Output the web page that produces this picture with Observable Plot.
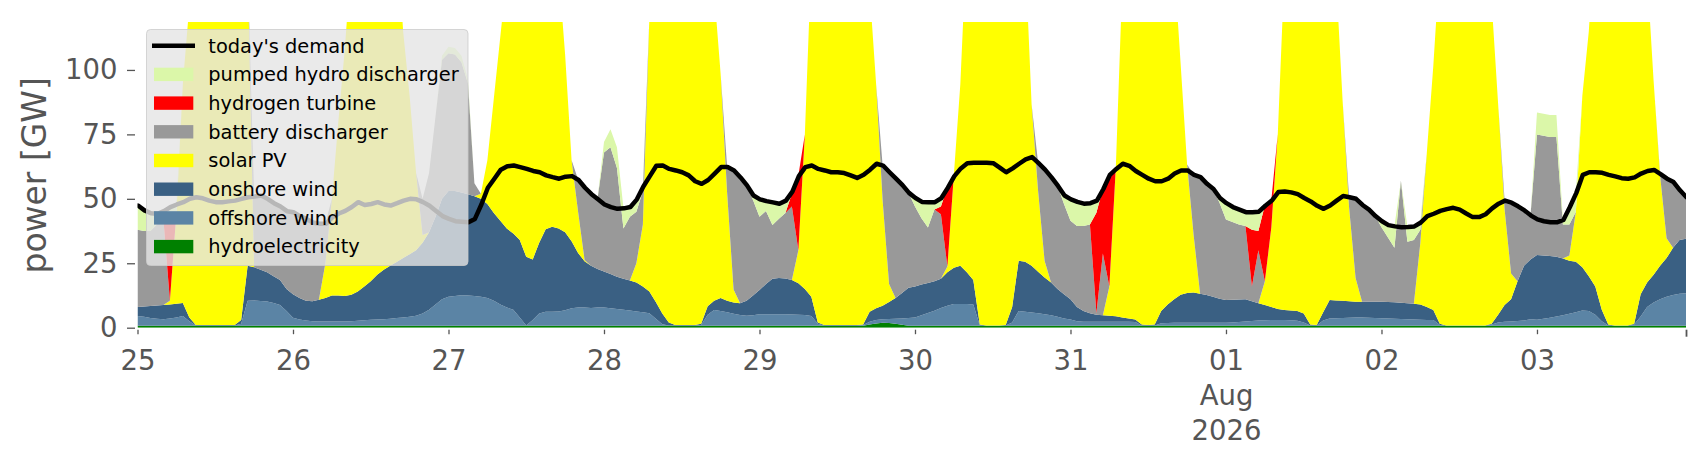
<!DOCTYPE html>
<html><head><meta charset="utf-8">
<script src="https://cdn.jsdelivr.net/npm/d3@7"></script>
<script src="https://cdn.jsdelivr.net/npm/@observablehq/plot@0.6"></script>
<style>
body{margin:0;background:#fff;}
#wrap{position:relative;width:1706px;height:460px;}
#wrap svg.overlay{position:absolute;left:0;top:0;pointer-events:none;}
</style></head><body>
<div id="wrap"></div>
<script>
// ---- data: hourly, 2026-07-25 00:00 .. 2026-08-03 23:00 (GW) ----
const seriesNames = ["hydroelectricity","offshore wind","onshore wind","solar PV","battery discharger","hydrogen turbine","pumped hydro discharger"];
const seriesColors = ["#008000","#5b84a5","#3a6083","#ffff00","#999999","#ff0000","#dbf7a9"];

const hydro = [
0.8,0.8,0.8,0.8,0.8,0.8,0.8,0.8,0.8,0.8,0.8,0.8,0.8,0.8,0.8,0.8,0.8,0.8,0.8,0.8,0.8,0.8,0.8,0.8,
0.8,0.8,0.8,0.8,0.8,0.8,0.8,0.8,0.8,0.8,0.8,0.8,0.8,0.8,0.8,0.8,0.8,0.8,0.8,0.8,0.8,0.8,0.8,0.8,
0.8,0.8,0.8,0.8,0.8,0.8,0.8,0.8,0.8,0.8,0.8,0.8,0.8,0.8,0.8,0.8,0.8,0.8,0.8,0.8,0.8,0.8,0.8,0.8,
0.8,0.8,0.8,0.8,0.8,0.8,0.8,0.8,0.8,0.8,0.8,0.8,0.8,0.8,0.8,0.8,0.8,0.8,0.8,0.8,0.8,0.8,0.8,0.8,
0.8,0.8,0.8,0.8,0.8,0.8,0.8,0.8,0.8,0.8,0.8,0.8,0.8,0.8,0.8,0.8,0.8,1.2,1.6,1.9,1.8,1.5,1.1,0.8,
0.8,0.8,0.8,0.8,0.8,0.8,0.8,0.8,0.8,0.8,0.8,0.8,0.8,0.8,0.8,0.8,0.8,0.8,0.8,0.8,0.8,0.8,0.8,0.8,
0.8,0.8,0.8,0.8,0.8,0.8,0.8,0.8,0.8,0.8,0.8,0.8,0.8,0.8,0.8,0.8,0.8,0.8,0.8,0.8,0.8,0.8,0.8,0.8,
0.8,0.8,0.8,0.8,0.8,0.8,0.8,0.8,0.8,0.8,0.8,0.8,0.8,0.8,0.8,0.8,0.8,0.8,0.8,0.8,0.8,0.8,0.8,0.8,
0.8,0.8,0.8,0.8,0.8,0.8,0.8,0.8,0.8,0.8,0.8,0.8,0.8,0.8,0.8,0.8,0.8,0.8,0.8,0.8,0.8,0.8,0.8,0.8,
0.8,0.8,0.8,0.8,0.8,0.8,0.8,0.8,0.8,0.8,0.8,0.8,0.8,0.8,0.8,0.8,0.8,0.8,0.8,0.8,0.8,0.8,0.8,0.8];

const offshore = [
3.7,3.4,3.0,2.7,2.5,2.8,3.2,3.7,1.7,0.1,0.1,0.1,0.1,0.1,0.1,0.1,0.7,9.7,9.8,9.6,9.4,8.8,8.0,5.7,
3.1,2.4,2.0,1.7,1.6,1.6,1.6,1.6,1.6,1.7,1.9,2.1,2.3,2.4,2.5,2.7,3.0,3.2,3.4,3.8,4.7,6.2,8.2,10.2,
11.2,11.5,11.8,11.7,11.5,11.2,10.7,9.7,8.2,7.0,6.2,3.2,0.1,2.2,4.7,5.4,5.4,5.5,6.0,6.7,7.0,7.0,6.8,7.0,
7.0,6.7,6.5,6.2,5.9,5.5,5.2,4.8,2.7,0.5,0.1,0.1,0.1,0.1,0.1,0.2,4.2,6.1,5.7,5.2,4.6,4.1,3.8,4.0,
4.4,4.4,4.4,4.4,4.4,4.3,4.2,4.1,3.7,0.7,0.1,0.1,0.1,0.1,0.1,0.1,0.2,1.1,1.4,1.4,1.6,2.0,2.5,3.0,
3.2,4.0,4.9,5.8,6.8,7.7,8.4,8.4,8.4,8.2,0.1,0.1,0.1,0.1,0.1,1.2,5.7,5.4,5.1,4.8,4.4,4.0,3.4,2.8,
2.4,1.7,1.5,1.5,1.5,1.5,1.5,1.5,1.5,1.5,1.4,0.1,0.1,0.1,0.9,1.0,1.1,1.1,1.1,1.1,1.1,1.1,1.1,1.1,
1.1,1.2,1.4,1.6,1.8,2.0,2.1,2.2,2.2,2.2,2.1,1.9,1.2,0.1,0.1,2.0,2.8,2.9,3.0,3.1,3.2,3.2,3.1,3.0,
2.9,2.8,2.7,2.6,2.5,2.4,2.3,2.2,2.2,0.2,0.1,0.1,0.1,0.1,0.1,0.1,0.1,0.4,1.2,1.5,1.6,1.8,2.0,2.5,
2.3,2.7,3.1,3.5,4.0,4.6,5.2,5.9,5.7,4.2,1.7,0.1,0.1,0.1,0.1,0.4,3.5,7.2,9.0,10.2,11.2,11.9,12.4,12.6];

const onshore = [
3.5,4.0,4.6,5.1,5.5,5.4,5.3,5.1,1.5,0.1,0.1,0.1,0.1,0.1,0.1,0.1,1.5,13.5,12.9,12.1,11.3,10.4,9.7,8.5,
9.1,8.3,7.7,7.8,8.4,9.1,10.1,10.1,9.9,10.3,11.3,13.1,14.9,17.3,19.2,20.5,21.7,23.0,24.3,25.4,27.5,30.0,34.0,39.0,
41.0,40.7,39.9,39.3,38.7,38.0,36.5,34.0,32.5,30.7,29.5,30.0,26.6,23.5,27.5,32.0,33.0,32.2,30.2,26.0,21.2,18.0,16.4,15.0,
14.0,13.3,12.5,12.0,11.6,11.2,10.0,8.4,6.5,4.2,1.1,0.1,0.1,0.1,0.1,0.5,3.3,3.6,5.0,4.5,4.4,4.6,5.9,7.7,
9.4,11.8,13.8,14.1,13.9,13.4,12.2,10.1,7.5,0.5,0.1,0.1,0.1,0.1,0.1,0.1,0.2,3.9,4.5,5.2,6.6,8.0,9.9,11.7,
12.0,12.0,11.6,11.4,11.4,13.0,14.1,14.8,12.3,9.5,0.3,0.0,0.0,0.0,0.1,6.0,19.5,19.4,18.1,16.1,14.3,12.7,10.8,9.4,
7.8,5.5,4.2,3.3,2.7,2.5,2.3,2.1,1.7,1.3,1.0,0.3,0.1,0.3,4.8,7.2,9.1,10.9,11.6,11.8,11.3,10.8,10.1,9.3,
8.8,8.8,8.7,8.6,7.7,6.7,5.9,5.0,4.3,3.9,3.8,3.8,3.5,0.3,0.1,3.2,7.1,6.9,6.7,6.4,6.1,6.1,6.2,6.3,
6.4,6.4,6.4,6.3,6.2,6.1,5.9,5.0,3.9,0.5,0.0,0.0,0.0,0.0,0.0,0.0,0.0,0.3,3.0,6.5,8.6,15.4,21.2,23.2,
25.1,24.5,23.9,23.2,22.0,20.6,19.6,16.8,13.5,11.0,4.5,0.3,0.0,0.0,0.0,0.3,8.7,9.5,10.7,13.0,15.0,18.3,20.8,21.1];

const solar = [
0,0,0,0,0,1.5,35,85,121,140,160,172,178,178,172,160,140,116,0,0,0,0,0,0,
0,0,0,0,0,13.5,37.5,67.5,96,130,145,155,160,160,155,145,130,88,61.5,30,3,0,0,0,
0,0,0,0,0,2,17,44.5,71.5,98.5,125,140,150,155,150,140,125,100,69,31.5,16,0.5,0,0,
0,0,0,0,0,7.5,24,106,130,150,160,165,165,160,150,140,130,120,87,42,5,0,0,0,
0,0,0,0,0,0,12.8,60,130,145,155,165,170,170,165,155,145,125,87,41,7,0,0,0,
0,0,0,0,0,2.2,36,70.5,130,145,160,170,175,172,165,155,140,120,62.6,31.3,6.5,0,0,0,
0,0,0,0,0,0,11.4,58,130,150,160,170,172,170,162,150,130,89.6,49.8,22.4,0,0,0,0,
0,0,0,0,0,0,9.2,31,68,130,145,160,165,170,165,155,140,125,77.5,36.3,9.2,0,0,0,
0,0,0,0,0,0,24,60,94.7,140,155,165,170,170,165,155,145,125,82,37.2,10,0,0,0,
0,0,0,0,0,2,19.4,66.5,95,140,155,165,170,170,165,155,140,120,75.3,35,7.7,0,0,0];

const battery = [
30,29.3,29.1,31.4,33.2,0,0,0,0,0,0,0,0,0,0,0,0,0,27.6,29,28.7,28.5,28.7,30.4,
32,32,31.9,30.7,29.7,15.5,0,0,0,0,0,0,0,0,0,0,0,0,0,0,14,23,39,54,
53.5,53,50.5,43,5,0,0,0,0,0,0,0,0,0,0,0,0,0,0,0,12.5,28.2,28,27.2,
46.2,49.2,42.2,19.5,24.7,20,13,0,0,0,0,0,0,0,0,0,0,0,0,10,46.4,49,44.9,37,
28.4,28.3,20.8,23,25.4,28.5,0,0,0,0,0,0,0,0,0,0,0,0,0,13.6,43.5,46.5,42,37,
31,25.7,21.6,27.9,25,0,0,0,0,0,0,0,0,0,0,0,0,0,0,11,35.5,41,40.2,35,
30.5,31.5,33,34.4,0.6,24,0,0,0,0,0,0,0,0,0,0,0,0,0,23.4,45.4,43.3,42,37.3,
31.3,30.2,29.1,28.5,5.7,20.5,0,0,0,0,0,0,0,0,0,0,0,0,0,4.2,30.9,37.7,35.9,33.4,
28.9,25,21.1,47.3,23.8,24.7,5,0,0,0,0,0,0,0,0,0,0,0,0,3.5,27.7,29.3,21.7,17.2,
46.8,46.5,46.2,46.5,13.2,12,0,0,0,0,0,0,0,0,0,0,0,0,0,0.8,23.3,25.7,19.5,16.3];

const hydrogen = [
0,0,0,0,0,30,0,0,0,0,0,0,0,0,0,0,0,0,0,0,0,0,0,0,
0,0,0,0,0,0,0,0,0,0,0,0,0,0,0,0,0,0,0,0,0,0,0,0,
0,0,0,0,0,0,0,0,0,0,0,0,0,0,0,0,0,0,0,0,0,0,0,0,
0,0,0,0,0,0,0,0,0,0,0,0,0,0,0,0,0,0,0,0,0,0,0,0,
0,0,0,0,0,5,29,0,0,0,0,0,0,0,0,0,0,0,0,0,0,0,0,0,
0,0,0,0,3,30.8,0,0,0,0,0,0,0,0,0,0,0,0,0,0,0,0,0,0,
0,0,0,0,39,25.2,43.5,0,0,0,0,0,0,0,0,0,0,0,0,0,0,0,0,0,
0,0,0,0,22,7.5,29.5,10.5,0,0,0,0,0,0,0,0,0,0,0,0,0,0,0,0,
0,0,0,0,0,0,0,0,0,0,0,0,0,0,0,0,0,0,0,0,0,0,0,0,
0,0,0,0,0,0,0,0,0,0,0,0,0,0,0,0,0,0,0,0,0,0,0,0];

const pumped = [
9.6,8.2,7.1,4.4,3.4,6.5,3.7,0,0,0,0,0,0,0,0,0,0,0,0,0,0,0,0,0,
0,0,0,0,0,0,0,0,0,0,0,0,0,0,0,0,0,0,0,0,0,0,0,1.5,
2.5,2.5,2.5,1.5,0,0,0,0,0,0,0,0,0,0,0,0,0,0,0,0,0,0,0,0,
4,7,8,8,4,5,2,0,0,0,0,0,0,0,0,0,0,0,0,0,0,0,0,2,
7,4,9,6,5,1,0,0,0,0,0,0,0,0,0,0,0,0,0,0,0,0,0,0,
3.5,6.5,10,3,3.5,0,0,0,0,0,0,0,0,0,0,0,0,0,0,0,0,0,0,3.5,
8.5,9.5,8.8,8.5,5,0,0,0,0,0,0,0,0,0,0,0,0,0,0,0,0,0,0,2,
6.5,6,6,5.5,7,7.7,0,0,0,0,0,0,0,0,0,0,0,0,0,0,0,0,0,0,
2.5,5,8.5,0,6,5.5,3,0,0,0,0,0,0,0,0,0,0,0,0,0,0,0,0,0,
8.5,8.5,8.5,8.5,2,7,7.5,0,0,0,0,0,0,0,0,0,0,0,0,0,0,0,0,0];

const demand = [
47.6,45.7,44.6,44.4,45.4,47,48,48.9,50.2,50.8,50.4,49.5,48.9,48.9,49.2,49.5,50.2,50.8,51.1,51.5,50.2,48.5,47.2,45.4,
45,43.5,42.4,41,40.5,40.5,43,44.5,45.5,47,48.9,47.8,48.2,48.9,48,47.6,48.5,49.5,50.2,50,48.9,47.5,45.5,43.5,
42.4,41.5,41.3,41.1,42.4,48,54.5,58,61.5,62.8,63.1,62.5,61.8,61,60.5,59.3,58.6,58,58.8,59,57.5,54.5,52,50,
48,47,46.3,46.5,47,50,55,59,63,63.1,61.8,61.2,60.5,59.3,57,56,57.5,60,62.5,62.5,61.2,58.5,55.4,51.5,
50,49.3,48.8,48.3,49.5,53,59,62.5,63.1,61.8,61.2,60.5,60.5,60.2,59.3,58.3,59.5,61.5,63.8,63.1,60.5,58,55.5,52.5,
50.5,49,48.9,48.9,50.5,54.5,59,62,64,64.2,64.2,64.2,64,62.3,60.5,62,63.8,65.5,66.4,64,61.5,58.5,55.2,51.5,
50,49,48.3,48.5,49.5,54,59.5,61.8,63.8,63,61,59.5,58,57,57,58,60,61.2,61.2,59.5,58.6,56,54,50.5,
48.5,47,46,45,45,45.2,47.5,49.5,52.8,53,52.7,52,50.5,49.2,47.5,46.3,47.6,49.5,51.3,50.8,50.2,47.8,46,43.5,
41.5,40,39.5,39.2,39.3,39.5,41,43.5,44.4,45.5,46.2,46.7,46,44.5,43.1,43.1,44.2,46.5,48.3,49.5,48.7,47.3,45.7,43.7,
42.2,41.5,41.1,41.1,42,47,52.5,59.5,60.5,60.5,60.3,59.5,58.9,58.2,58,58.5,60,61,61.4,59.8,58,56.7,53.5,50.8];

const yTicks = [0, 25, 50, 75, 100];
const xTickLabels = ["25","26","27","28","29","30","31","01\nAug\n2026","02","03"];
const legendLabels = ["today's demand","pumped hydro discharger","hydrogen turbine","battery discharger","solar PV","onshore wind","offshore wind","hydroelectricity"];
const legendColors = ["#000000","#dbf7a9","#ff0000","#999999","#ffff00","#3a6083","#5b84a5","#008000"];

// ---- build tables ----
const seriesValues = [hydro, offshore, onshore, solar, battery, hydrogen, pumped];
const wrap = document.getElementById("wrap");
const bad = seriesValues.concat([demand]).findIndex(a => a.length !== 240);
if (bad >= 0) throw new Error("series length mismatch at " + bad + ": " + seriesValues.concat([demand])[bad].length);

const t0 = new Date(Date.UTC(2026, 6, 25, 0));
const dates = demand.map((_, i) => new Date(t0.getTime() + i * 3600e3));
const rows = seriesNames.flatMap((s, k) => seriesValues[k].map((v, i) => ({date: dates[i], series: s, value: v})));
const demandRows = demand.map((v, i) => ({date: dates[i], value: v}));
const tickDates = xTickLabels.map((_, i) => new Date(t0.getTime() + i * 86400e3));
const labelMap = new Map(tickDates.map((d, i) => [+d, xTickLabels[i]]));

const chart = Plot.plot({
  width: 1706, height: 460,
  marginLeft: 137.5, marginRight: 20, marginTop: 22, marginBottom: 132.3,
  x: {type: "utc", domain: [dates[0], dates[dates.length - 1]]},
  y: {domain: [0, 118.6]},
  color: {domain: seriesNames, range: seriesColors},
  style: {fontFamily: "DejaVu Sans", background: "white", color: "#555"},
  marks: [
    Plot.areaY(rows, {x: "date", y: "value", z: "series", fill: "series", order: seriesNames, clip: true}),
    Plot.lineY(demandRows, {x: "date", y: "value", stroke: "black", strokeWidth: 4.5, strokeLinejoin: "round", clip: true}),
    Plot.axisY({ticks: yTicks, tickSize: 8, tickPadding: 10, dx: -2.5, fontSize: 27.5, label: null, stroke: "#555", strokeWidth: 1.3, fill: "#555"}),
    Plot.axisX({ticks: tickDates, tickFormat: d => labelMap.get(+d), tickSize: 4.5, dy: 2, tickPadding: 11, fontSize: 27.5, lineHeight: 1.27, label: null, stroke: "#555", strokeWidth: 1.3, fill: "#555"}),
    Plot.axisX({ticks: [dates[dates.length - 1]], tickFormat: () => "", tickSize: 7, dy: 2, label: null, stroke: "#555", strokeWidth: 1.8}),
    Plot.text(["power [GW]"], {frameAnchor: "left", textAnchor: "middle", lineAnchor: "middle", dx: -103, rotate: -90, fontSize: 33, fill: "#555"})
  ]
});
wrap.appendChild(chart);

// ---- legend overlay (inside the axes, upper left) ----
const ns = "http://www.w3.org/2000/svg";
const ov = document.createElementNS(ns, "svg");
ov.setAttribute("class", "overlay");
ov.setAttribute("width", 1706); ov.setAttribute("height", 460);
const box = document.createElementNS(ns, "rect");
Object.entries({x: 146.5, y: 29.5, width: 321.5, height: 236, rx: 4, fill: "#e5e5e5", "fill-opacity": 0.8, stroke: "#cccccc", "stroke-opacity": 0.8, "stroke-width": 1}).forEach(([k, v]) => box.setAttribute(k, v));
ov.appendChild(box);
legendLabels.forEach((lab, i) => {
  const cy = 45.7 + i * 28.7;
  let sw;
  if (i === 0) {
    sw = document.createElementNS(ns, "line");
    Object.entries({x1: 152, x2: 195, y1: cy, y2: cy, stroke: legendColors[i], "stroke-width": 4.5}).forEach(([k, v]) => sw.setAttribute(k, v));
  } else {
    sw = document.createElementNS(ns, "rect");
    Object.entries({x: 154, y: cy - 6.7, width: 39.3, height: 13.4, fill: legendColors[i]}).forEach(([k, v]) => sw.setAttribute(k, v));
  }
  ov.appendChild(sw);
  const tx = document.createElementNS(ns, "text");
  Object.entries({x: 208.3, y: cy + 6.8, fill: "#000", "font-family": "DejaVu Sans", "font-size": 19.4}).forEach(([k, v]) => tx.setAttribute(k, v));
  tx.textContent = lab;
  ov.appendChild(tx);
});
wrap.appendChild(ov);
</script>
</body></html>
